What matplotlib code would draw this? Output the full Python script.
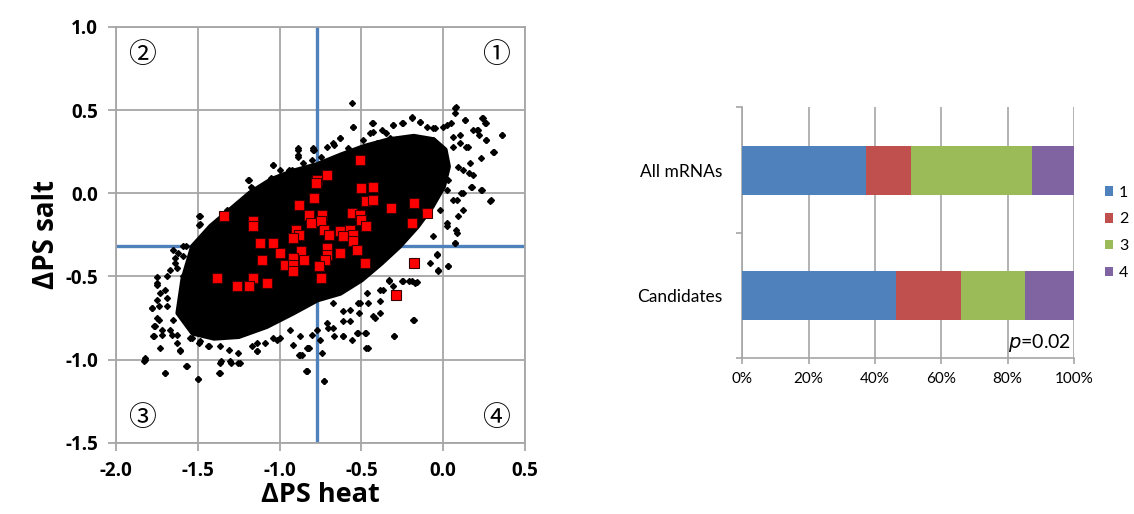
import numpy as np
import matplotlib.pyplot as plt
from matplotlib.patches import Polygon
from matplotlib.patches import Patch

plt.rcParams['font.family'] = ['Lato', 'DejaVu Sans']
BOLD_FONT = ['Open Sans', 'DejaVu Sans']

### scatter data (dPS heat, dPS salt)
# dense core of the black cloud, outline
core_x = [-1.62, -1.59, -1.53, -1.42, -1.30, -1.18, -1.05, -0.92, -0.77, -0.62,
          -0.48, -0.33, -0.18, -0.06, 0.01, 0.03, 0.00, -0.07, -0.16, -0.27,
          -0.38, -0.50, -0.63, -0.77, -0.92, -1.08, -1.25, -1.40, -1.53]
core_y = [-0.72, -0.52, -0.32, -0.20, -0.10, 0.00, 0.08, 0.13, 0.17, 0.23,
          0.28, 0.32, 0.34, 0.32, 0.26, 0.16, 0.04, -0.08, -0.20, -0.32,
          -0.42, -0.52, -0.60, -0.64, -0.72, -0.80, -0.86, -0.87, -0.84]

# sparse points around the cloud
out_x = [-0.56, 0.08, -0.55, -0.43, -0.43, -0.31, -0.25, -0.19, -0.14, -0.06,
         0.00, 0.05, 0.13, 0.24, 0.26, 0.21, 0.22, 0.36, 0.26, 0.31,
         0.14, 0.10, 0.23, 0.29, 0.17, 0.11, 0.06, 0.08, 0.07, -0.04,
         -0.03, 0.03, -0.18, -0.30, -0.25, -0.21, -0.17, -0.47, -0.42, -0.48,
         -0.53, -0.61, -0.73, -0.83, -0.88, -0.82, -0.92, -1.00, -1.14, -1.24,
         -1.30, -1.36, -1.37, -1.50, -1.57, -1.70, -1.82, -1.83, -1.77, -1.72,
         -1.77, -1.74, -1.78, -1.75, -1.75, -1.69, -1.64, -1.62, -1.57, -1.49,
         -1.49, -1.38, -1.39, -1.43, -1.26, -1.19, -1.17, -1.12, -1.04, -1.00,
         -0.89, -0.89, -0.79, -0.75, -0.63, -0.58, -1.63, -1.66, -1.55, -1.49,
         -1.43, -1.61, -1.04, -1.14, -0.71, -0.67, -0.77, -0.57, -0.51, -0.37,
         -0.33, -0.08, -0.06, 0.02, -0.02, 0.03, 0.09, 0.16, 0.23, 0.18,
         0.06, -0.06, -0.35, -0.49, -0.67, -0.94, -1.05, -1.20, -1.32, -1.45,
         -1.51, -1.59, -1.67, -1.70, -1.69, -1.65]
out_y = [0.54, 0.52, 0.40, 0.42, 0.37, 0.41, 0.42, 0.45, 0.43, 0.39,
         0.40, 0.42, 0.44, 0.45, 0.42, 0.38, 0.35, 0.35, 0.32, 0.25,
         0.28, 0.30, 0.21, -0.04, 0.04, 0.00, -0.04, -0.22, -0.30, -0.37,
         -0.46, -0.44, -0.76, -0.86, -0.53, -0.53, -0.54, -0.93, -0.75, -0.84,
         -0.84, -0.86, -1.13, -1.07, -0.97, -0.93, -0.91, -0.87, -0.95, -1.02,
         -1.02, -1.01, -1.08, -1.12, -1.04, -1.08, -0.99, -1.01, -0.86, -0.85,
         -0.80, -0.76, -0.69, -0.64, -0.54, -0.50, -0.42, -0.36, -0.32, -0.14,
         -0.19, -0.17, -0.21, -0.26, -0.15, 0.08, 0.03, -0.03, 0.17, 0.14,
         0.26, 0.22, 0.26, 0.22, 0.33, 0.27, -0.90, -0.85, -0.87, -0.90,
         -0.92, -0.94, -0.87, -0.90, -0.78, -0.86, -0.82, -0.70, -0.66, -0.58,
         -0.52, -0.42, -0.26, -0.18, -0.10, 0.08, 0.16, 0.12, 0.02, 0.38,
         0.34, 0.32, 0.36, 0.32, 0.29, 0.14, 0.09, -0.04, -0.10, -0.26,
         -0.32, -0.38, -0.46, -0.58, -0.68, -0.76]

# speckled band between the core and the sparse points
edge_x = [-0.553, -0.437, -0.447, -0.376, -0.305, -0.244, -0.193, -0.142, -0.101, -0.050,
          0.021, 0.072, 0.072, 0.133, 0.235, 0.256, 0.205, 0.358, 0.262, 0.306,
          0.154, 0.103, 0.062, 0.164, 0.123, 0.184, 0.235, 0.286, 0.174, 0.123,
          0.082, 0.021, 0.093, 0.123, 0.082, 0.021, -0.794, -0.712, -0.672, -0.631,
          -0.590, -0.488, -0.406, -0.325, -0.804, -0.855, -0.886, -0.886, -0.794, -1.038,
          -0.926, -1.191, -1.177, -0.998, -1.109, -1.242, -1.201, -1.487, -1.487, -1.375,
          -1.375, -1.283, -1.038, -0.957, -1.650, -1.589, -1.639, -1.629, -1.589, -1.751,
          -1.751, -1.731, -1.690, -1.782, -1.735, -1.751, -1.762, -1.721, -1.776, -1.731,
          -1.670, -1.629, -1.609, -1.537, -1.487, -1.436, -1.364, -1.307, -1.252, -1.170,
          -1.140, -1.089, -1.018, -0.937, -0.875, -0.875, -0.824, -0.834, -1.568, -1.497,
          -1.700, -1.823, -1.364, -1.364, -1.303, -1.252, -0.040, 0.027, -0.030, 0.072,
          -0.244, -0.193, -0.162, -0.329, -0.305, -0.386, -0.386, -0.427, -0.183, -0.299,
          -0.458, -0.472, -0.519, -0.559, -0.610, -0.513, -0.570, -0.610, -0.672, -0.702,
          -0.743, -0.831, -0.839, -0.729, -0.804, -0.753, -0.865, -0.672, -0.610, -0.519,
          -0.468, -0.386, -0.458]
edge_y = [0.400, 0.420, 0.360, 0.380, 0.410, 0.420, 0.456, 0.430, 0.400, 0.390,
          0.410, 0.510, 0.480, 0.440, 0.450, 0.420, 0.380, 0.350, 0.320, 0.250,
          0.280, 0.350, 0.280, 0.180, 0.140, 0.110, 0.020, -0.045, 0.040, 0.000,
          -0.040, 0.020, -0.140, -0.100, -0.240, -0.200, 0.260, 0.280, 0.300, 0.330,
          0.240, 0.250, 0.300, 0.330, 0.200, 0.180, 0.270, 0.230, 0.270, 0.170,
          0.140, 0.080, 0.035, 0.080, -0.010, -0.090, -0.090, -0.135, -0.185, -0.190,
          -0.230, -0.160, -0.020, 0.040, -0.340, -0.320, -0.390, -0.450, -0.500, -0.505,
          -0.550, -0.600, -0.630, -0.690, -0.680, -0.750, -0.800, -0.820, -0.860, -0.930,
          -0.820, -0.850, -0.950, -0.870, -0.890, -0.920, -0.920, -0.940, -0.960, -0.920,
          -0.950, -0.900, -0.880, -0.820, -0.860, -0.970, -0.930, -1.070, -1.040, -1.120,
          -1.080, -1.000, -1.080, -1.020, -1.010, -1.020, -0.365, -0.440, -0.465, -0.300,
          -0.530, -0.530, -0.535, -0.530, -0.560, -0.650, -0.720, -0.740, -0.760, -0.860,
          -0.930, -0.840, -0.840, -0.880, -0.860, -0.720, -0.770, -0.770, -0.810, -0.810,
          -0.960, -0.930, -1.070, -1.130, -0.850, -0.880, -0.970, -0.660, -0.710, -0.660,
          -0.600, -0.580, -0.660]

# candidate mRNAs (red squares)
cand_x = [-0.51, -0.71, -0.77, -0.78, -0.50, -0.43, -0.79, -0.47, -0.43, -0.18,
          -0.32, -0.10, -0.88, -0.82, -0.81, -0.74, -0.75, -0.56, -0.51, -0.50,
          -0.47, -0.19, -1.34, -1.16, -1.16, -0.73, -0.70, -0.63, -0.57, -0.61,
          -0.55, -0.55, -0.90, -0.88, -0.92, -1.12, -1.04, -0.53, -0.63, -0.71,
          -0.71, -0.72, -1.00, -0.87, -0.92, -0.85, -1.11, -0.97, -0.92, -0.92,
          -0.76, -0.48, -0.18, -0.75, -1.38, -1.16, -1.19, -1.26, -1.08, -0.29]
cand_y = [0.20, 0.11, 0.08, 0.06, 0.03, 0.04, -0.03, -0.05, -0.04, -0.06,
          -0.09, -0.12, -0.07, -0.13, -0.18, -0.13, -0.17, -0.12, -0.13, -0.16,
          -0.20, -0.18, -0.14, -0.17, -0.20, -0.22, -0.25, -0.23, -0.22, -0.26,
          -0.25, -0.29, -0.22, -0.25, -0.27, -0.30, -0.30, -0.34, -0.36, -0.33,
          -0.37, -0.40, -0.36, -0.35, -0.39, -0.40, -0.40, -0.43, -0.43, -0.47,
          -0.44, -0.42, -0.42, -0.51, -0.51, -0.51, -0.56, -0.56, -0.54, -0.61]

heat_cut = -0.77
salt_cut = -0.32

quad_labels = ['\u2460', '\u2461', '\u2462', '\u2463']
quad_x = [0.32, -1.84, -1.84, 0.32]
quad_y = [0.83, 0.83, -1.35, -1.35]

### stacked bars
groups = ['Candidates', 'All mRNAs']
q1 = [46.2, 37.3]
q2 = [19.7, 13.7]
q3 = [19.4, 36.3]
q4 = [14.7, 12.7]
bar_colors = ['#4F81BD', '#C0504D', '#9BBB59', '#8064A2']
bar_names = ['1', '2', '3', '4']

fig = plt.figure(figsize=(11.34, 5.14), dpi=100)
grid_c = '#A6A6A6'

### left: scatter
ax = fig.add_axes([0.1023, 0.1387, 0.3607, 0.8091])
ax.set_xlim(-2.0, 0.5)
ax.set_ylim(-1.5, 1.0)
xt = np.arange(-2.0, 0.51, 0.5)
yt = np.arange(-1.5, 1.01, 0.5)
ax.set_xticks(xt)
ax.set_yticks(yt)
ax.set_xticklabels(['%.1f' % v for v in xt], fontweight='bold', family=BOLD_FONT)
ax.set_yticklabels(['%.1f' % v for v in yt], fontweight='bold', family=BOLD_FONT)
ax.grid(True, color=grid_c, lw=1.3)
ax.set_axisbelow(True)
for s in ax.spines.values():
    s.set_color(grid_c)
    s.set_linewidth(1.3)
ax.tick_params(direction='out', length=6, width=1.3, color=grid_c, labelsize=13.5, pad=7)

ax.axvline(heat_cut, color='#4F81BD', lw=2.4, zorder=1)
ax.axhline(salt_cut, color='#4F81BD', lw=2.4, zorder=1)

ax.add_patch(Polygon(np.column_stack([core_x, core_y]), closed=True,
                     fc='black', ec='black', lw=4, zorder=2, joinstyle='round'))
ax.plot(out_x, out_y, 'D', color='black', ms=3, ls='none', zorder=3)
ax.plot(edge_x, edge_y, 'D', color='black', ms=3, ls='none', zorder=3)
ax.plot(cand_x, cand_y, 's', mfc='#FF0000', mec='#3a0000', mew=0.8, ms=6.8,
        ls='none', zorder=4)

for t, qx, qy in zip(quad_labels, quad_x, quad_y):
    ax.text(qx, qy, t, ha='center', va='center', fontsize=20,
            family=['Noto Sans CJK JP', 'DejaVu Sans'])

ax.set_xlabel('\u0394PS heat', fontsize=19.5, fontweight='bold', family=BOLD_FONT, labelpad=1)
ax.set_ylabel('\u0394PS salt', fontsize=20, fontweight='bold', family=BOLD_FONT, labelpad=3)

### right: stacked bars
bx = fig.add_axes([0.6546, 0.3029, 0.2925, 0.4883])
ypos = np.arange(len(groups))
left = np.zeros(len(groups))
handles = []
for vals, c, n in zip([q1, q2, q3, q4], bar_colors, bar_names):
    bx.barh(ypos, vals, left=left, height=0.39, color=c, zorder=3)
    left = left + np.array(vals)
    handles.append(Patch(facecolor=c, label=n))
bx.set_xlim(0, 100)
bx.set_ylim(-0.5, 1.5)
bx.set_xticks(np.arange(0, 101, 20))
bx.set_xticklabels(['%d%%' % v for v in range(0, 101, 20)])
bx.set_yticks([-0.5, 0.5, 1.5])
bx.set_yticklabels([])
bx.set_yticks(ypos, minor=True)
bx.set_yticklabels(groups, minor=True, fontsize=12.5)
bx.tick_params(axis='y', which='minor', length=0, pad=14)
bx.tick_params(axis='y', which='major', length=4, width=1.2, color=grid_c)
bx.tick_params(axis='x', length=4, width=1.2, color=grid_c, labelsize=11, pad=6)
bx.grid(True, axis='x', color=grid_c, lw=1.2, zorder=0)
bx.set_axisbelow(True)
bx.spines['top'].set_visible(False)
bx.spines['right'].set_visible(False)
bx.spines['left'].set_color(grid_c)
bx.spines['bottom'].set_color(grid_c)
bx.spines['left'].set_linewidth(1.2)
bx.spines['bottom'].set_linewidth(1.2)
bx.text(99, -0.38, '$p$=0.02', ha='right', va='center', fontsize=14)

fig.legend(handles=handles, loc='center left', bbox_to_anchor=(0.974, 0.547),
           frameon=False, fontsize=11.5, handlelength=0.55, handleheight=0.55,
           handletextpad=0.35, labelspacing=0.8, borderpad=0, borderaxespad=0)

fig.savefig('out.png', dpi=100)
